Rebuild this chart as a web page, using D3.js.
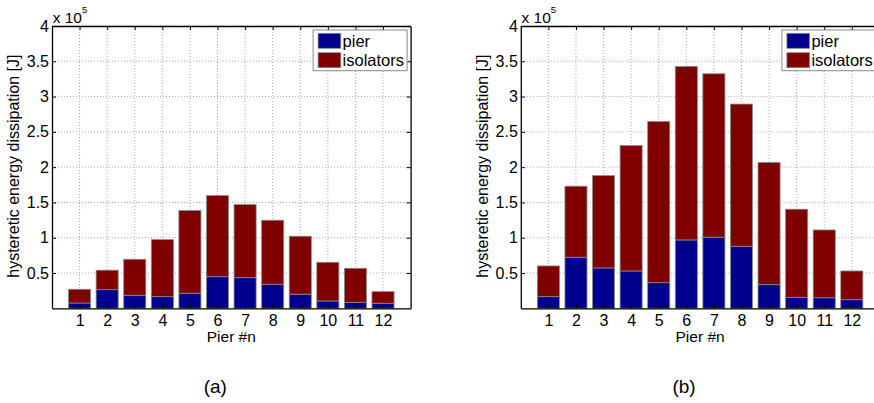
<!DOCTYPE html>
<html>
<head>
<meta charset="utf-8">
<script src="https://cdn.jsdelivr.net/npm/d3@7"></script>
<style>
  body { margin: 0; background: #fff; }
  svg { display: block; font-family: "Liberation Sans", Arial, Helvetica, sans-serif; }
</style>
</head>
<body>
<svg id="chart" width="874" height="403"></svg>
<script>
// pier numbers on the x axis
const piers = [1, 2, 3, 4, 5, 6, 7, 8, 9, 10, 11, 12]
// hysteretic energy [J]
const pierA = [7500, 26400, 18400, 16500, 21300, 44800, 43400, 34000, 20000, 10400, 8500, 7100]
const isoA = [19500, 27600, 51100, 80800, 117200, 114900, 103600, 90800, 82100, 54800, 48200, 16500]
const pierB = [16500, 72300, 57200, 52900, 36300, 96900, 100700, 87900, 33500, 15600, 15000, 12200]
const isoB = [43500, 100700, 130900, 177800, 228400, 245800, 231600, 201500, 173100, 124800, 96000, 40700]
const yTicks = [50000, 100000, 150000, 200000, 250000, 300000, 350000, 400000]
const seriesNames = ["pier", "isolators"]
const seriesColors = ["#00008f", "#800000"]

const svg = d3.select("#chart")
const plotW = 358.6
const plotH = 282.3
const plotTop = 26
const fs = 16

drawPanel(pierA, isoA, 52, "(a)")
drawPanel(pierB, isoB, 520.8, "(b)")

function drawPanel(pier, iso, left, letter) {
  const g = svg.append("g").attr("transform", "translate(" + left + "," + plotTop + ")")

  const x = d3.scaleLinear().domain([0, 13]).range([0, plotW])
  const y = d3.scaleLinear().domain([0, 400000]).range([plotH, 0])
  const step = x(1) - x(0)
  const bw = step * 0.8

  // dotted grid
  g.append("g").selectAll("line").data(piers).join("line")
    .attr("x1", d => x(d)).attr("x2", d => x(d))
    .attr("y1", 0).attr("y2", plotH)
    .attr("stroke", "#a8a8a8").attr("stroke-dasharray", "1,2")
  g.append("g").selectAll("line").data(yTicks).join("line")
    .attr("x1", 0).attr("x2", plotW)
    .attr("y1", d => y(d)).attr("y2", d => y(d))
    .attr("stroke", "#a8a8a8").attr("stroke-dasharray", "1,2")

  // stacked bars
  const rows = piers.map((p, i) => ({ p: p, pier: pier[i], iso: iso[i] }))
  const stack = d3.stack().keys(["pier", "iso"])(rows)
  g.append("g").selectAll("g").data(stack).join("g")
    .attr("fill", (d, i) => seriesColors[i])
    .selectAll("rect").data(d => d).join("rect")
      .attr("x", d => x(d.data.p) - bw / 2)
      .attr("width", bw)
      .attr("y", d => y(d[1]))
      .attr("height", d => y(d[0]) - y(d[1]))
      .attr("stroke", "#8a8a8a")
      .attr("stroke-width", 0.8)

  // box and inward ticks
  const tk = 4
  const axisBottom = d3.axisBottom(x).tickValues(piers).tickSizeInner(-tk).tickSizeOuter(0).tickPadding(6.5)
  const axisTop = d3.axisTop(x).tickValues(piers).tickSizeInner(-tk).tickSizeOuter(0).tickFormat("")
  const axisLeft = d3.axisLeft(y).tickValues(yTicks).tickSizeInner(-tk).tickSizeOuter(0).tickPadding(3)
    .tickFormat(d => d3.format("")(d / 100000))
  const axisRight = d3.axisRight(y).tickValues(yTicks).tickSizeInner(-tk).tickSizeOuter(0).tickFormat("")

  const ax = [
    g.append("g").attr("transform", "translate(0," + plotH + ")").call(axisBottom),
    g.append("g").call(axisTop),
    g.append("g").call(axisLeft),
    g.append("g").attr("transform", "translate(" + plotW + ",0)").call(axisRight)
  ]
  ax.forEach(a => {
    a.select(".domain").attr("stroke", "#000").attr("stroke-width", 1.3)
    a.selectAll(".tick line").attr("stroke", "#000")
    a.selectAll("text").attr("font-size", fs).attr("font-family", null).attr("fill", "#000")
  })

  // exponent label
  const ex = g.append("text").attr("x", 0.7).attr("y", -3.3).attr("font-size", 15.5)
  ex.append("tspan").text("x 10")
  ex.append("tspan").attr("dy", -10).attr("font-size", 9.5).text("5")

  // axis titles
  g.append("text")
    .attr("transform", "translate(" + (-33) + "," + (plotH / 2 - 1) + ") rotate(-90)")
    .attr("text-anchor", "middle").attr("font-size", fs)
    .text("hysteretic energy dissipation [J]")
  g.append("text")
    .attr("x", plotW / 2).attr("y", plotH + 33.4)
    .attr("text-anchor", "middle").attr("font-size", 15.5)
    .text("Pier #n")
  g.append("text")
    .attr("x", plotW / 2 - 16).attr("y", plotH + 84.5)
    .attr("text-anchor", "middle").attr("font-size", 19)
    .text(letter)

  // legend
  const lg = g.append("g").attr("transform", "translate(" + (plotW - 97.5) + ",4)")
  lg.append("rect").attr("width", 94).attr("height", 40.7)
    .attr("fill", "#fff").attr("stroke", "#888")
  seriesNames.forEach((name, i) => {
    lg.append("rect").attr("x", 5).attr("y", 3.3 + i * 19.4).attr("width", 22.7).attr("height", 15)
      .attr("fill", seriesColors[i]).attr("stroke", "#8a8a8a").attr("stroke-width", 0.8)
    lg.append("text").attr("x", 29.5).attr("y", 16.7 + i * 19.4).attr("font-size", 16.5).text(name)
  })
}
</script>
</body>
</html>
